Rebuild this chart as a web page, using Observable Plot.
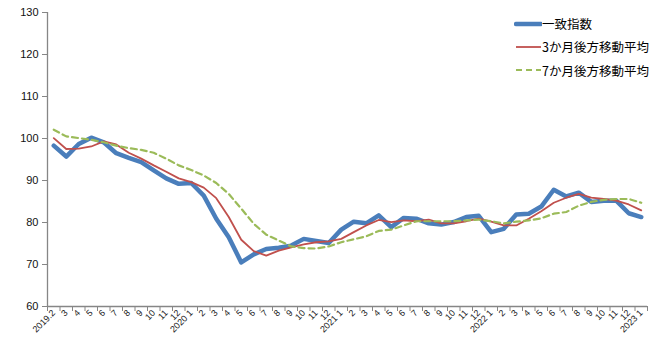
<!DOCTYPE html>
<html>
<head>
<meta charset="utf-8">
<script src="https://cdn.jsdelivr.net/npm/d3@7"></script>
<script src="https://cdn.jsdelivr.net/npm/@observablehq/plot@0.6"></script>
<style>
  body { margin: 0; background: #fff; }
  #wrap { position: relative; width: 669px; height: 357px; }
  #legend { position: absolute; left: 514px; top: 12px; font-family: "Noto Sans CJK JP", sans-serif; font-size: 12.5px; color: #000; }
  .row { display: flex; align-items: center; height: 23.3px; }
  .row svg { display: block; }
</style>
</head>
<body>
<div id="wrap"><div id="legend"></div></div>
<script>
const labels = ["2019.2","3","4","5","6","7","8","9","10","11","12",
  "2020 1","2","3","4","5","6","7","8","9","10","11","12",
  "2021 1","2","3","4","5","6","7","8","9","10","11","12",
  "2022 1","2","3","4","5","6","7","8","9","10","11","12",
  "2023 1"];
const coincident = [98.3,95.7,98.7,100.2,99.1,96.5,95.4,94.4,92.4,90.5,89.2,
  89.4,86.4,80.9,76.5,70.5,72.4,73.7,74.0,74.5,76.1,75.6,75.1,
  78.3,80.2,79.8,81.7,78.9,81.1,80.9,79.8,79.5,80.1,81.3,81.6,
  77.7,78.5,81.9,82.1,83.8,87.8,86.2,87.1,84.9,85.2,85.2,82.2,
  81.3];
const ma3 = [100.1,97.5,97.6,98.1,99.3,98.6,96.6,95.2,93.6,92.1,90.5,
  89.6,88.3,85.8,81.3,75.9,73.2,72.1,73.3,74.1,74.8,75.3,75.5,
  76.1,77.7,79.3,80.6,80.1,80.5,80.3,80.7,79.8,79.8,80.3,80.9,
  80.2,79.3,79.3,80.9,82.7,84.7,85.9,86.8,85.9,85.6,85.2,84.3,
  82.9];
const ma7 = [102.1,100.5,100.1,99.7,99.1,98.3,97.7,97.3,96.6,95.2,93.6,
  92.5,91.2,89.4,86.8,83.3,79.7,77.1,75.7,74.3,73.9,73.8,74.3,
  75.3,76.0,76.7,78.0,78.3,79.3,80.3,80.3,80.3,80.3,80.5,80.7,
  80.3,79.8,80.2,80.5,81.0,82.1,82.5,84.0,84.9,85.4,85.6,85.6,
  84.7];
const seriesNames = ["一致指数","3か月後方移動平均","7か月後方移動平均"];
const yTicks = [60,70,80,90,100,110,120,130];

const colors = ["#4A7EBB","#C0504D","#9BBB59"];
const widths = [4.5, 1.8, 2.2];
const dashes = [null, null, "6,4"];
const axisGray = "#868686";

const chart = Plot.plot({
  width: 669,
  height: 357,
  marginLeft: 47,
  marginRight: 22,
  marginTop: 12,
  marginBottom: 51,
  style: { fontFamily: "'Liberation Sans', Arial, sans-serif", background: "#fff" },
  x: { type: "linear", domain: [-0.5, labels.length - 0.5] },
  y: { domain: [60, 130] },
  marks: [
    Plot.axisY({ ticks: yTicks, tickSize: 5, tickPadding: 4, fontSize: 11, stroke: axisGray, fill: "#111", label: null }),
    Plot.axisX({ ticks: d3.range(labels.length + 1).map(i => i - 0.5), tickFormat: () => "", tickSize: 5, stroke: axisGray, label: null }),
    Plot.axisX({ ticks: d3.range(labels.length), tickFormat: i => labels[i], tickSize: 0, tickPadding: 5, tickRotate: -45, fontSize: 9, fill: "#222", label: null }),
    Plot.ruleX([-0.5], { stroke: axisGray, strokeWidth: 1.3 }),
    Plot.ruleY([60], { stroke: axisGray, strokeWidth: 1.3 }),
    Plot.line(coincident, { x: (d, i) => i, y: d => d, stroke: colors[0], strokeWidth: widths[0], strokeLinejoin: "round", strokeLinecap: "round" }),
    Plot.line(ma3, { x: (d, i) => i, y: d => d, stroke: colors[1], strokeWidth: widths[1], strokeLinejoin: "round" }),
    Plot.line(ma7, { x: (d, i) => i, y: d => d, stroke: colors[2], strokeWidth: widths[2], strokeDasharray: dashes[2] })
  ]
});
document.getElementById("wrap").prepend(chart);

const legend = d3.select("#legend");
seriesNames.forEach((name, k) => {
  const row = legend.append("div").attr("class", "row");
  const s = row.append("svg").attr("width", 28).attr("height", 10);
  s.append("line").attr("x1", 2).attr("x2", 27).attr("y1", 5).attr("y2", 5)
    .attr("stroke", colors[k]).attr("stroke-width", widths[k])
    .attr("stroke-dasharray", dashes[k])
    .attr("stroke-linecap", k === 0 ? "round" : "butt");
  row.append("span").text(name);
});
</script>
</body>
</html>
